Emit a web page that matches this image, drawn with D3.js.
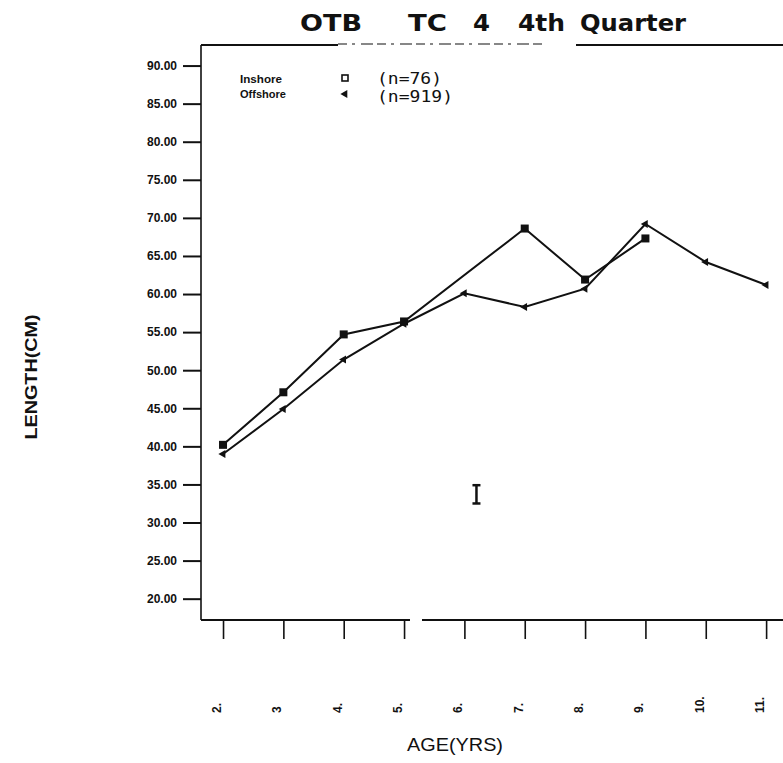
<!DOCTYPE html>
<html>
<head>
<meta charset="utf-8">
<script src="https://d3js.org/d3.v7.min.js"></script>
<style>
  body { margin: 0; background: #fff; }
  svg text { fill: #111; }
</style>
</head>
<body>
<div id="chart"></div>
<script>
// ages on the x axis
var ages        = [2, 3, 4, 5, 6, 7, 8, 9, 10, 11];
var xTickLabels = ["2.", "3", "4.", "5.", "6.", "7.", "8.", "9.", "10.", "11."];
var yTicks      = [20, 25, 30, 35, 40, 45, 50, 55, 60, 65, 70, 75, 80, 85, 90];

// mean length at age (cm)
var inshoreAges   = [2, 3, 4, 5, 7, 8, 9];
var inshoreLen    = [40.2, 47.1, 54.7, 56.4, 68.6, 61.9, 67.3];
var offshoreAges  = [2, 3, 4, 5, 6, 7, 8, 9, 10, 11];
var offshoreLen   = [39.0, 44.9, 51.4, 56.1, 60.1, 58.3, 60.7, 69.2, 64.2, 61.2];

// the standard error bar drawn in the plot
var errBar = {age: 6.2, lo: 32.5, hi: 34.9};

var titleWords  = ["OTB", "TC", "4", "4th", "Quarter"];
var legendNames = ["Inshore", "Offshore"];
var legendN     = ["(n=76)", "(n=919)"];

var W = 783, H = 763;
var pLeft = 201, pRight = 783, pTop = 45, pBottom = 620;

var svg = d3.select("#chart").append("svg")
    .attr("width", W).attr("height", H);

var x = d3.scaleLinear().domain([1.635, 11.28]).range([pLeft, pRight]);
var y = d3.scaleLinear().domain([17.2, 92.7]).range([pBottom, pTop]);

// title, spread out like the plotter lettering
var titlePos = [[300, 62], [408, 39], [473, 17], [518, 47], [580, 106]];
svg.append("g").selectAll("text")
  .data(titleWords)
  .enter().append("text")
    .attr("x", function(d, i) { return titlePos[i][0]; })
    .attr("y", 31)
    .attr("textLength", function(d, i) { return titlePos[i][1]; })
    .attr("lengthAdjust", "spacingAndGlyphs")
    .style("font-family", "DejaVu Sans")
    .style("font-weight", "bold")
    .style("font-size", "23px")
    .text(function(d) { return d; });

// top frame line, broken under the title
var frame = svg.append("g").attr("stroke", "#111").attr("fill", "none");
frame.append("line").attr("x1", pLeft).attr("x2", 338).attr("y1", pTop).attr("y2", pTop).attr("stroke-width", 2);
frame.append("line").attr("x1", 338).attr("x2", 545).attr("y1", pTop - 1).attr("y2", pTop - 1)
  .attr("stroke-width", 1.2).attr("stroke-dasharray", "9,5,3,6,12,4");
frame.append("line").attr("x1", 576).attr("x2", pRight).attr("y1", pTop).attr("y2", pTop).attr("stroke-width", 2);

// Y axis
var yAxis = d3.axisLeft(y)
    .tickValues(yTicks)
    .tickSize(18)
    .tickPadding(6)
    .tickFormat(d3.format(".2f"));

var yAxisEl = svg.append("g")
    .attr("transform", "translate(" + pLeft + ",0)")
    .call(yAxis);
yAxisEl.select(".domain").remove();
yAxisEl.selectAll(".tick line").attr("stroke", "#111").attr("stroke-width", 2);
yAxisEl.selectAll(".tick text")
    .attr("fill", "#111")
    .style("font-family", "Liberation Sans")
    .style("font-weight", "bold")
    .style("font-size", "12px");
svg.append("line")
    .attr("x1", pLeft).attr("x2", pLeft).attr("y1", pTop).attr("y2", pBottom)
    .attr("stroke", "#111").attr("stroke-width", 1.6);

// X axis
var xAxis = d3.axisBottom(x)
    .tickValues(ages)
    .tickSize(19)
    .tickFormat("");
var xAxisEl = svg.append("g")
    .attr("transform", "translate(0," + pBottom + ")")
    .call(xAxis);
xAxisEl.select(".domain").remove();
xAxisEl.selectAll(".tick line").attr("stroke", "#111").attr("stroke-width", 1.6);
// base line has a small break after age 5
svg.append("line").attr("x1", pLeft).attr("x2", 410).attr("y1", pBottom).attr("y2", pBottom)
    .attr("stroke", "#111").attr("stroke-width", 2);
svg.append("line").attr("x1", 422).attr("x2", pRight).attr("y1", pBottom).attr("y2", pBottom)
    .attr("stroke", "#111").attr("stroke-width", 2);

// rotated age labels
svg.append("g").selectAll("text")
  .data(ages)
  .enter().append("text")
    .attr("transform", function(d) { return "translate(" + (x(d) - 2) + ",713) rotate(-90)"; })
    .attr("text-anchor", "start")
    .style("font-family", "Liberation Sans")
    .style("font-weight", "bold")
    .style("font-size", "12px")
    .text(function(d, i) { return xTickLabels[i]; });

// axis titles
svg.append("text")
    .attr("x", 407).attr("y", 751)
    .attr("textLength", 96).attr("lengthAdjust", "spacingAndGlyphs")
    .style("font-family", "Liberation Sans")
    .style("font-size", "19px")
    .text("AGE(YRS)");

svg.append("text")
    .attr("transform", "translate(37,377) rotate(-90)")
    .attr("text-anchor", "middle")
    .attr("textLength", 125).attr("lengthAdjust", "spacingAndGlyphs")
    .style("font-family", "Liberation Sans")
    .style("font-weight", "bold")
    .style("font-size", "16px")
    .text("LENGTH(CM)");

// lines
var line = d3.line()
    .x(function(d) { return x(d[0]); })
    .y(function(d) { return y(d[1]); });

var inshore  = inshoreAges.map(function(a, i) { return [a, inshoreLen[i]]; });
var offshore = offshoreAges.map(function(a, i) { return [a, offshoreLen[i]]; });

svg.append("path").datum(offshore)
    .attr("d", line).attr("fill", "none")
    .attr("stroke", "#111").attr("stroke-width", 2);
svg.append("path").datum(inshore)
    .attr("d", line).attr("fill", "none")
    .attr("stroke", "#111").attr("stroke-width", 2);

// markers
svg.append("g").selectAll("rect")
  .data(inshore)
  .enter().append("rect")
    .attr("x", function(d) { return x(d[0]) - 4; })
    .attr("y", function(d) { return y(d[1]) - 4; })
    .attr("width", 8).attr("height", 8)
    .attr("fill", "#111");

var tri = d3.symbol().type(d3.symbolTriangle).size(28);
svg.append("g").selectAll("path")
  .data(offshore)
  .enter().append("path")
    .attr("d", tri)
    .attr("transform", function(d) { return "translate(" + x(d[0]) + "," + y(d[1]) + ") rotate(-90)"; })
    .attr("fill", "#111");

// error bar
var eb = svg.append("g").attr("stroke", "#111").attr("stroke-width", 2.5);
eb.append("line")
    .attr("x1", x(errBar.age)).attr("x2", x(errBar.age))
    .attr("y1", y(errBar.hi)).attr("y2", y(errBar.lo));
eb.append("line")
    .attr("x1", x(errBar.age) - 4).attr("x2", x(errBar.age) + 4)
    .attr("y1", y(errBar.hi)).attr("y2", y(errBar.hi));
eb.append("line")
    .attr("x1", x(errBar.age) - 4).attr("x2", x(errBar.age) + 4)
    .attr("y1", y(errBar.lo)).attr("y2", y(errBar.lo));

// legend
var legend = svg.append("g");
legend.selectAll("text.name")
  .data(legendNames)
  .enter().append("text")
    .attr("class", "name")
    .attr("x", 240)
    .attr("y", function(d, i) { return 83 + i * 15; })
    .attr("textLength", function(d, i) { return i ? 46 : 42; })
    .attr("lengthAdjust", "spacingAndGlyphs")
    .style("font-family", "Liberation Sans")
    .style("font-weight", "bold")
    .style("font-size", "10.5px")
    .text(function(d) { return d; });
legend.selectAll("text.n")
  .data(legendN)
  .enter().append("text")
    .attr("class", "n")
    .attr("x", 377)
    .attr("y", function(d, i) { return 84 + i * 18; })
    .attr("textLength", function(d, i) { return i ? 76 : 65; })
    .attr("lengthAdjust", "spacingAndGlyphs")
    .style("font-family", "DejaVu Sans Mono")
    .style("font-size", "16px")
    .text(function(d) { return d; });
legend.append("rect")
    .attr("x", 342).attr("y", 75).attr("width", 6).attr("height", 6)
    .attr("fill", "none").attr("stroke", "#111").attr("stroke-width", 1.6);
legend.append("path")
    .attr("d", tri)
    .attr("transform", "translate(345,94) rotate(-90)")
    .attr("fill", "#111");
</script>
</body>
</html>
